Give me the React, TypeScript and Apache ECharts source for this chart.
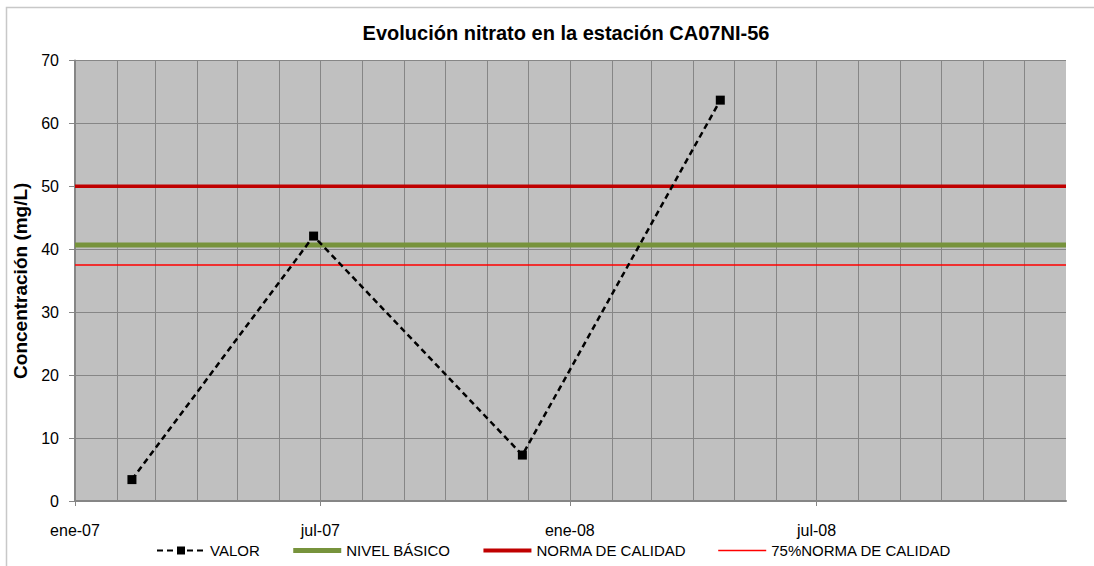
import React, { useEffect, useRef } from 'react';
import * as echarts from 'echarts';

const titleText = 'Evolución nitrato en la estación CA07NI-56';
const yAxisName = 'Concentración (mg/L)';
const valorDates = ['2007-02-12', '2007-06-26', '2007-11-27', '2008-04-21'];
const valorValues = [3.4, 42.1, 7.3, 63.7];
const axisStart = '2007-01-01';
const axisEnd = '2009-01-01';
const xTickDates = ['2007-01-01', '2007-07-01', '2008-01-01', '2008-07-01'];
const nivelBasico = 40.7;
const normaCalidad = 50;
const norma75 = 37.5;
const yMin = 0;
const yMax = 70;
const yInterval = 10;
const monthNames = ['ene', 'feb', 'mar', 'abr', 'may', 'jun', 'jul', 'ago', 'sep', 'oct', 'nov', 'dic'];
const legendNames = ['VALOR', 'NIVEL BÁSICO', 'NORMA DE CALIDAD', '75%NORMA DE CALIDAD'];

const FONT = "'Liberation Sans', Arial, sans-serif";
const DAY = 24 * 3600 * 1000;

function toTime(s: string): number {
  const [y, m, d] = s.split('-').map(Number);
  return new Date(y, m - 1, d).getTime();
}

export default function App() {
  const ref = useRef<HTMLDivElement>(null);
  useEffect(() => {
    if (!ref.current) return;
    const chart = echarts.init(ref.current, undefined, { renderer: 'svg' });
    const start = toTime(axisStart);
    const end = toTime(axisEnd);
    const tickValues = xTickDates.map(toTime);
    const hLine = (v: number) => [[start, v], [end, v]];
    const fmt = (v: number) => {
      const d = new Date(v);
      return monthNames[d.getMonth()] + '-' + String(d.getFullYear()).slice(2);
    };
    chart.setOption({
      animation: false,
      textStyle: { fontFamily: FONT },
      graphic: [
        {
          type: 'rect',
          shape: { x: 6.5, y: 7.5, width: 1100, height: 600 },
          style: { fill: 'none', stroke: '#c8c8c8', lineWidth: 1.5 },
          silent: true,
          z: -1,
        },
        {
          type: 'text',
          x: 566,
          y: 33,
          style: {
            text: titleText,
            fill: '#000',
            font: `bold 20px ${FONT}`,
            textAlign: 'center',
            textVerticalAlign: 'middle',
          },
          silent: true,
        },
      ],
      grid: {
        left: 75,
        right: 28,
        top: 60.5,
        bottom: 65,
        show: true,
        backgroundColor: '#c0c0c0',
        borderWidth: 0,
      },
      legend: {
        data: [
          { name: legendNames[0] },
          { name: legendNames[1], itemStyle: { opacity: 0 }, lineStyle: { width: 5 } },
          { name: legendNames[2], itemStyle: { opacity: 0 }, lineStyle: { width: 4 } },
          { name: legendNames[3], itemStyle: { opacity: 0 }, lineStyle: { width: 1.5 } },
        ],
        left: 151,
        top: 538,
        itemWidth: 48,
        itemHeight: 10,
        itemGap: 31,
        textStyle: { fontSize: 15, color: '#000', fontFamily: FONT },
        selectedMode: false,
      },
      xAxis: [
        {
          type: 'time',
          min: start,
          max: end,
          splitNumber: 24,
          minInterval: 28 * DAY,
          maxInterval: 31 * DAY,
          axisLine: { show: true, lineStyle: { color: '#868686', width: 2 } },
          axisTick: { show: false },
          axisLabel: { show: false },
          splitLine: { show: true, showMaxLine: false, lineStyle: { color: '#868686', width: 1 } },
        },
        {
          type: 'value',
          position: 'bottom',
          min: start,
          max: end,
          scale: true,
          axisLine: { show: false },
          axisTick: {
            show: true,
            length: 5,
            inside: false,
            customValues: tickValues,
            lineStyle: { color: '#868686', width: 1 },
          },
          axisLabel: {
            show: true,
            margin: 21,
            fontSize: 16,
            color: '#000',
            fontFamily: FONT,
            customValues: tickValues,
            formatter: (v: number) => fmt(v),
            hideOverlap: false,
          },
          splitLine: { show: false },
        },
      ],
      yAxis: {
        type: 'value',
        min: yMin,
        max: yMax,
        interval: yInterval,
        name: yAxisName,
        nameLocation: 'middle',
        nameGap: 37,
        nameTextStyle: { fontSize: 19, fontWeight: 'bold', color: '#000', fontFamily: FONT },
        axisLine: { show: true, lineStyle: { color: '#868686', width: 2 } },
        axisTick: { show: true, length: 6, lineStyle: { color: '#868686', width: 1 } },
        axisLabel: { margin: 16, fontSize: 16, color: '#000', fontFamily: FONT },
        splitLine: { show: true, lineStyle: { color: '#868686', width: 1 } },
      },
      series: [
        {
          name: 'NIVEL BÁSICO',
          type: 'line',
          xAxisIndex: 0,
          data: hLine(nivelBasico),
          symbol: 'none',
          lineStyle: { color: '#77933c', width: 5 },
          itemStyle: { color: '#77933c' },
          silent: true,
          z: 2,
        },
        {
          name: 'NORMA DE CALIDAD',
          type: 'line',
          xAxisIndex: 0,
          data: hLine(normaCalidad),
          symbol: 'none',
          lineStyle: { color: '#c00000', width: 3.5 },
          itemStyle: { color: '#c00000' },
          silent: true,
          z: 2,
        },
        {
          name: '75%NORMA DE CALIDAD',
          type: 'line',
          xAxisIndex: 0,
          data: hLine(norma75),
          symbol: 'none',
          lineStyle: { color: '#ff0000', width: 1.5 },
          itemStyle: { color: '#ff0000' },
          silent: true,
          z: 2,
        },
        {
          name: 'VALOR',
          type: 'line',
          xAxisIndex: 0,
          data: valorDates.map((d, i) => [toTime(d), valorValues[i]]),
          symbol: 'rect',
          symbolSize: 9,
          itemStyle: { color: '#000' },
          lineStyle: { color: '#000', width: 2.5, type: [6, 4] },
          silent: true,
          z: 5,
        },
      ],
    });
    return () => chart.dispose();
  }, []);
  return (
    <div
      ref={ref}
      style={{ position: 'absolute', left: 0, top: 0, width: 1094, height: 566 }}
    />
  );
}
